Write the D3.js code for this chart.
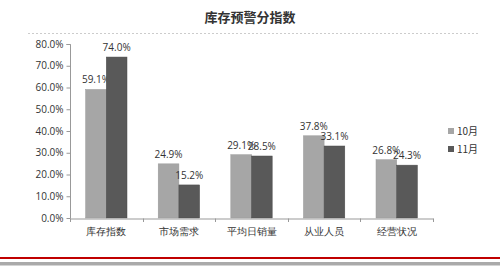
<!DOCTYPE html>
<html><head><meta charset="utf-8">
<script src="https://cdn.jsdelivr.net/npm/d3@7"></script>
<style>body{margin:0;background:#fff;}svg{display:block;font-family:"Noto Sans CJK SC","Noto Sans",sans-serif;}</style>
</head><body>
<svg id="c" width="500" height="269"></svg>
<script>
const categories = ["库存指数","市场需求","平均日销量","从业人员","经营状况"];
const seriesNames = ["10月","11月"];
const oct = [59.1, 24.9, 29.1, 37.8, 26.8];
const nov = [74.0, 15.2, 28.5, 33.1, 24.3];
const yTicks = [0,10,20,30,40,50,60,70,80];
const colors = ["#a6a6a6","#595959"];

const svg = d3.select("#c");
const x = d3.scaleBand().domain(categories).range([70, 433]).paddingInner(0.43).paddingOuter(0.215);
const xs = d3.scaleBand().domain(seriesNames).range([0, x.bandwidth()]);
const y = d3.scaleLinear().domain([0, 80]).range([218, 44]);

svg.append("text").attr("x", 250).attr("y", 22).attr("text-anchor","middle")
  .attr("font-size", 13).attr("font-weight","bold").attr("fill","#333").text("库存预警分指数");
svg.append("line").attr("x1",28).attr("x2",478).attr("y1",33.5).attr("y2",33.5)
  .attr("stroke","#ccc").attr("stroke-dasharray","2,2");

const yAxis = d3.axisLeft(y).tickValues(yTicks).tickSize(4).tickFormat(d => d.toFixed(1) + "%");
const gy = svg.append("g").attr("transform","translate(70.5,0)").call(yAxis);
gy.select(".domain").attr("stroke","#999").attr("d","M-4,44.5H0V218.5");
gy.selectAll(".tick line").attr("stroke","#999");
gy.selectAll(".tick text").attr("font-size",10).attr("fill","#333").attr("x",-7).attr("font-family","'Open Sans',sans-serif");

const data = [oct, nov];
categories.forEach((c, i) => {
  seriesNames.forEach((s, j) => {
    const v = data[j][i];
    svg.append("rect").attr("x", x(c) + xs(s)).attr("y", y(v))
      .attr("width", xs.bandwidth()).attr("height", y(0) - y(v))
      .attr("fill", colors[j]).attr("stroke", j ? "#4a4a4a" : "#999").attr("stroke-width", 0.5);
    svg.append("text").attr("x", x(c) + xs(s) + xs.bandwidth()/2).attr("y", y(v) - 6)
      .attr("text-anchor","middle").attr("font-size",10).attr("fill","#333")
      .attr("font-family","'Open Sans',sans-serif").text(v.toFixed(1) + "%");
  });
});

const xAxis = d3.axisBottom(x).tickSize(0);
const gx = svg.append("g").attr("transform","translate(0,218.5)").call(xAxis);
gx.select(".domain").attr("stroke","#999");
gx.selectAll(".tick text").attr("font-size",10).attr("fill","#333").attr("dy", "1.3em");
const step = x.step();
d3.range(categories.length + 1).forEach(k => {
  const xx = Math.round(70 + k * step) + 0.5;
  svg.append("line").attr("x1",xx).attr("x2",xx).attr("y1",218.5).attr("y2",222).attr("stroke","#999");
});

seriesNames.forEach((s, j) => {
  const ly = 131 + j * 18;
  svg.append("rect").attr("x",448).attr("y",ly-3).attr("width",6).attr("height",6).attr("fill",colors[j]);
  svg.append("text").attr("x",457).attr("y",ly+4).attr("font-size",10).attr("fill","#333").text(s);
});

svg.append("rect").attr("x",0).attr("y",257).attr("width",500).attr("height",2).attr("fill","#c00000");
svg.append("rect").attr("x",0).attr("y",262).attr("width",500).attr("height",3.5).attr("fill","#aaa");
</script>
</body></html>
